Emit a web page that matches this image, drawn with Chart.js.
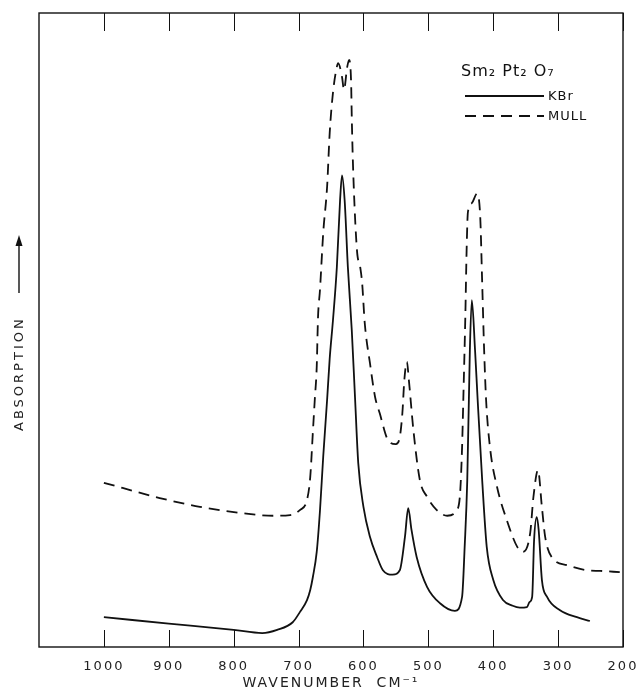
<!DOCTYPE html>
<html>
<head>
<meta charset="utf-8">
<script src="https://cdn.jsdelivr.net/npm/chart.js@4/dist/chart.umd.min.js"></script>
<style>
  html, body { margin: 0; padding: 0; background: #fff; }
  #c { display: block; }
</style>
</head>
<body>
<canvas id="c" width="642" height="692"></canvas>
<script>
// KBr (solid) spectrum, wavenumber cm-1 / absorption (arbitrary units)
const kbrWavenumber = [1000, 900, 800, 756, 733, 709, 698, 687, 682, 678, 672, 667, 662, 656, 652, 647, 641, 636, 633, 629, 624, 618, 613, 608, 600, 590, 579, 570, 555, 544, 536, 531, 526, 518, 502, 482, 459, 448, 444, 440, 436, 433, 428, 424, 417, 410, 400, 385, 370, 359, 348, 344, 340, 337, 333, 330, 325, 317, 297, 271, 251];
const kbrAbsorption = [4.7, 3.7, 2.7, 2.2, 2.7, 3.9, 5.5, 7.4, 9.0, 11.0, 15.0, 21.5, 30.0, 39.0, 45.5, 51.5, 59.9, 70.5, 74.4, 70.5, 59.9, 50.0, 39.4, 29.0, 22.1, 17.4, 14.2, 12.1, 11.4, 12.1, 17.4, 21.9, 18.5, 14.2, 9.5, 6.9, 5.7, 7.9, 15.8, 26.3, 46.8, 54.7, 46.8, 39.0, 26.3, 15.8, 10.6, 7.4, 6.5, 6.2, 6.3, 7.1, 7.9, 16.9, 20.5, 18.5, 10.6, 7.9, 5.8, 4.7, 4.1];

// Mull (dashed) spectrum
const mullWavenumber = [1000, 914, 852, 786, 739, 713, 698, 687, 682, 678, 675, 672, 670, 667, 662, 656, 652, 647, 641, 639, 633, 630, 625, 622, 619, 618, 616, 610, 605, 602, 598, 590, 582, 575, 562, 550, 544, 540, 537, 533, 530, 523, 513, 502, 487, 471, 456, 451, 448, 446, 443, 441, 439, 433, 425, 420, 417, 414, 411, 405, 394, 379, 363, 354, 343, 338, 331, 325, 320, 310, 286, 255, 235, 205];
const mullAbsorption = [25.9, 23.5, 22.1, 21.1, 20.7, 20.8, 21.6, 23.2, 26.8, 33.8, 39.0, 44.2, 52.0, 56.3, 65.3, 72.6, 81.1, 87.4, 91.5, 92.1, 89.9, 87.9, 91.5, 92.6, 89.0, 83.6, 75.7, 62.6, 59.9, 57.4, 51.1, 44.8, 39.4, 36.9, 32.6, 32.0, 33.1, 36.9, 42.1, 45.0, 42.1, 34.2, 26.3, 23.7, 21.6, 20.7, 21.6, 24.3, 31.5, 39.4, 52.1, 62.6, 68.6, 70.0, 71.5, 67.8, 57.4, 46.8, 39.0, 31.5, 25.2, 20.0, 15.8, 15.0, 18.0, 23.7, 27.9, 22.1, 17.4, 14.2, 12.9, 12.1, 12.0, 11.8];

// x axis ticks
const xTicks = [1000, 900, 800, 700, 600, 500, 400, 300, 200];
const seriesLabels = ['KBr', 'MULL'];
const compoundTitle = 'Sm\u2082 Pt\u2082 O\u2087';
const yTitle = 'ABSORPTION';

const toPoints = (xs, ys) => xs.map((x, i) => ({ x: x, y: ys[i] }));

// spaced lettering like the original lettering set
const spacingPlugin = {
  id: 'spacing',
  beforeDraw(chart) {
    chart.ctx.letterSpacing = '2px';
  }
};

// frame, inward tick marks, y title with arrow, legend
const framePlugin = {
  id: 'frame',
  afterDraw(chart) {
    const ctx = chart.ctx;
    const a = chart.chartArea;
    const xs = chart.scales.x;
    ctx.save();
    ctx.strokeStyle = '#111';
    ctx.lineWidth = 1.4;
    ctx.strokeRect(a.left, a.top, a.right - a.left, a.bottom - a.top);
    ctx.lineWidth = 1;
    xTicks.forEach(v => {
      const px = Math.round(xs.getPixelForValue(v)) + 0.5;
      ctx.beginPath();
      ctx.moveTo(px, a.bottom);
      ctx.lineTo(px, a.bottom - 17);
      ctx.moveTo(px, a.top);
      ctx.lineTo(px, a.top + 18);
      ctx.stroke();
    });

    // y title, rotated, with arrow pointing up
    ctx.save();
    ctx.translate(20, 431);
    ctx.rotate(-Math.PI / 2);
    ctx.fillStyle = '#222';
    ctx.font = '13px "DejaVu Sans", sans-serif';
    ctx.letterSpacing = '3px';
    ctx.textAlign = 'left';
    ctx.textBaseline = 'middle';
    ctx.fillText(yTitle, 0, 0);
    ctx.lineWidth = 1.4;
    ctx.strokeStyle = '#111';
    ctx.beginPath();
    ctx.moveTo(138, -1);
    ctx.lineTo(188, -1);
    ctx.stroke();
    ctx.beginPath();
    ctx.moveTo(196, -1);
    ctx.lineTo(185, -4.5);
    ctx.lineTo(185, 2.5);
    ctx.closePath();
    ctx.fillStyle = '#111';
    ctx.fill();
    ctx.restore();

    // legend
    ctx.fillStyle = '#111';
    ctx.textBaseline = 'middle';
    ctx.textAlign = 'left';
    ctx.letterSpacing = '1px';
    ctx.font = '16px "DejaVu Sans", sans-serif';
    ctx.fillText(compoundTitle, 461, 72);
    ctx.font = '13px "DejaVu Sans", sans-serif';
    chart.data.datasets.forEach((ds, i) => {
      const y = 96 + i * 20;
      ctx.beginPath();
      ctx.lineWidth = 1.8;
      ctx.setLineDash(ds.borderDash || []);
      ctx.moveTo(465, y);
      ctx.lineTo(544, y);
      ctx.stroke();
      ctx.setLineDash([]);
      ctx.fillText(ds.label, 548, y + 1);
    });
    ctx.restore();
  }
};

new Chart(document.getElementById('c'), {
  type: 'line',
  data: {
    datasets: [
      {
        label: seriesLabels[0],
        data: toPoints(kbrWavenumber, kbrAbsorption),
        borderColor: '#111',
        borderWidth: 1.8,
        pointRadius: 0,
        fill: false,
        cubicInterpolationMode: 'monotone'
      },
      {
        label: seriesLabels[1],
        data: toPoints(mullWavenumber, mullAbsorption),
        borderColor: '#111',
        borderWidth: 1.8,
        borderDash: [11, 7],
        pointRadius: 0,
        fill: false,
        cubicInterpolationMode: 'monotone'
      }
    ]
  },
  options: {
    responsive: false,
    animation: false,
    layout: { padding: { top: 13, right: 19, left: 0, bottom: 0 } },
    plugins: {
      legend: { display: false },
      tooltip: { enabled: false }
    },
    scales: {
      x: {
        type: 'linear',
        reverse: true,
        min: 200,
        max: 1100,
        afterFit: s => { s.height = 45; },
        afterBuildTicks: s => { s.ticks = xTicks.map(v => ({ value: v })); },
        ticks: {
          color: '#222',
          padding: 4,
          maxRotation: 0,
          font: { family: '"DejaVu Sans", sans-serif', size: 13 },
          callback: v => String(v)
        },
        grid: { display: false },
        border: { display: false },
        title: {
          display: true,
          text: 'WAVENUMBER  CM\u207B\u00B9',
          color: '#222',
          padding: { top: 0, bottom: 0 },
          font: { family: '"DejaVu Sans", sans-serif', size: 14 }
        }
      },
      y: {
        min: 0,
        max: 100,
        afterFit: s => { s.width = 39; },
        ticks: { display: false },
        grid: { display: false },
        border: { display: false }
      }
    }
  },
  plugins: [spacingPlugin, framePlugin]
});
</script>
</body>
</html>
